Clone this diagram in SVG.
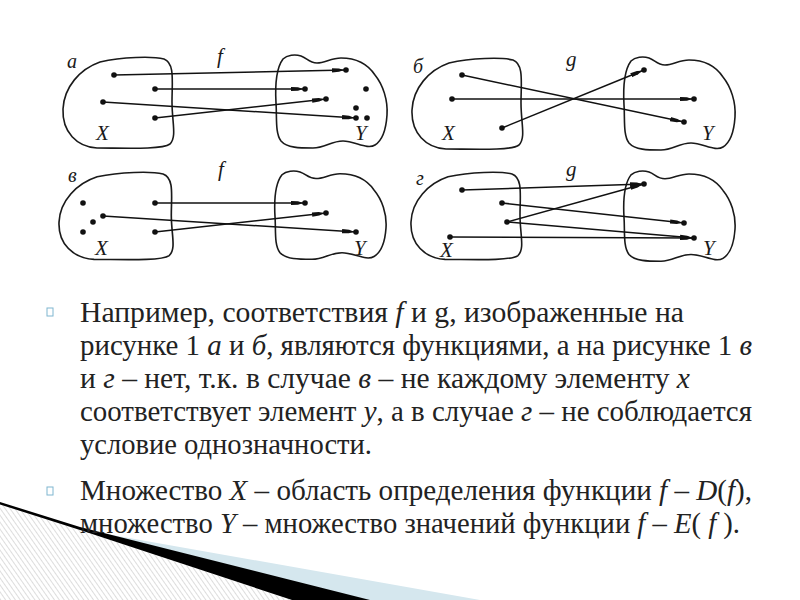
<svg xmlns="http://www.w3.org/2000/svg" width="800" height="600" viewBox="0 0 800 600">
<style>
.blob{fill:none;stroke:#1a1a1a;stroke-width:1.6;vector-effect:non-scaling-stroke}
.ln{stroke:#111;stroke-width:1.5;fill:none;marker-end:url(#ah)}
.dot{fill:#111}
.bul{fill:none;stroke:#7fb6d0;stroke-width:1}
</style>
<defs>
<marker id="ah" markerUnits="userSpaceOnUse" markerWidth="16" markerHeight="8" refX="14" refY="4" orient="auto">
<path d="M0,1.9 L7,2.3 L12,4 L7,5.7 L0,6.1 Z" fill="#111"/>
</marker>
<path id="lb" d="M 38,5 C 60,0 90,-1 102,2 C 113,6 110,25 110,45 C 110,65 115,80 108,87 C 100,93 60,91 35,91 C 15,90 0,75 1,52 C 2,30 18,12 38,5 Z"/>
<path id="rb" d="M 8,4 C 12,0 20,-1 26,1 C 32,3 34,8 42,8 C 50,8 56,3 66,3 C 80,3 92,8 100,20 C 108,30 113,45 112,60 C 111,75 108,85 100,90 C 92,95 80,86 68,86 C 56,86 50,93 38,93 C 25,93 12,93 6,86 C 0,78 2,62 1,48 C 0,30 2,12 8,4 Z"/>
<pattern id="hatch" patternUnits="userSpaceOnUse" width="4" height="4" patternTransform="rotate(-35)">
<rect width="4" height="4" fill="#fff"/>
<line x1="0" y1="0" x2="0" y2="4" stroke="#cfcfcf" stroke-width="1.4"/>
</pattern>
</defs>

<g id="decoration">
<polygon points="0,504 80,530 292,600 0,600" fill="url(#hatch)"/>
<polygon points="95,532 480,600 368,600 80,529" fill="#d5e7ee"/>
<polygon points="0,502 80,527 370,600 292,600 80,530 0,504.5" fill="#000"/>
</g>

<g id="labels" font-family="Liberation Serif" font-style="italic" fill="#1a1a1a" font-size="21">
<text x="67" y="68" font-size="20">a</text>
<text x="217" y="63">f</text>
<text x="96" y="140">X</text>
<text x="355" y="140">Y</text>
<text x="413" y="73" font-size="20">б</text>
<text x="566" y="66">g</text>
<text x="442" y="140">X</text>
<text x="702" y="140">Y</text>
<text x="68" y="182" font-size="20">в</text>
<text x="218" y="176">f</text>
<text x="95" y="255">X</text>
<text x="354" y="255">Y</text>
<text x="416" y="185" font-size="20">г</text>
<text x="566" y="176">g</text>
<text x="440" y="257">X</text>
<text x="703" y="255">Y</text>
</g>

<g id="panel-a">
<g id="a-X"><use href="#lb" class="blob" transform="translate(62,57)"/></g>
<g id="a-Y"><use href="#rb" class="blob" transform="translate(275,55)"/></g>
<g class="dot">
<circle cx="114" cy="75" r="2.8"/><circle cx="155" cy="89" r="2.8"/><circle cx="103" cy="102" r="2.8"/><circle cx="155" cy="118" r="2.8"/>
<circle cx="346" cy="70" r="2.8"/><circle cx="305" cy="89" r="2.8"/><circle cx="366" cy="89" r="2.8"/><circle cx="326" cy="99" r="2.8"/><circle cx="356" cy="108" r="2.8"/><circle cx="356" cy="118" r="2.8"/><circle cx="367" cy="118" r="2.8"/>
</g>
</g>

<g id="panel-b">
<g id="b-X"><use href="#lb" class="blob" transform="translate(411,58)"/></g>
<g id="b-Y"><use href="#rb" class="blob" transform="translate(623,57)"/></g>
<g class="dot">
<circle cx="462" cy="75" r="2.8"/><circle cx="452" cy="99" r="2.8"/><circle cx="502" cy="128" r="2.8"/>
<circle cx="644" cy="70" r="2.8"/><circle cx="694" cy="99" r="2.8"/><circle cx="684" cy="122" r="2.8"/>
</g>
</g>

<g id="panel-v">
<g id="v-X"><use href="#lb" class="blob" transform="translate(58,172) scale(1.03,0.96)"/></g>
<g id="v-Y"><use href="#rb" class="blob" transform="translate(274,171) scale(1,0.95)"/></g>
<g class="dot">
<circle cx="83" cy="203" r="2.8"/><circle cx="93" cy="222" r="2.8"/><circle cx="83" cy="232" r="2.8"/><circle cx="103" cy="216" r="2.8"/><circle cx="155" cy="203" r="2.8"/><circle cx="155" cy="232" r="2.8"/>
<circle cx="305" cy="203" r="2.8"/><circle cx="326" cy="213" r="2.8"/><circle cx="356" cy="232" r="2.8"/>
</g>
</g>

<g id="panel-g">
<g id="g-X"><use href="#lb" class="blob" transform="translate(410,172) scale(1,0.96)"/></g>
<g id="g-Y"><use href="#rb" class="blob" transform="translate(623,171) scale(1,0.97)"/></g>
<g class="dot">
<circle cx="462" cy="190" r="2.8"/><circle cx="502" cy="203" r="2.8"/><circle cx="507" cy="222" r="2.8"/><circle cx="450" cy="237" r="2.8"/>
<circle cx="644" cy="184" r="2.8"/><circle cx="684" cy="223" r="2.8"/><circle cx="694" cy="238" r="2.8"/>
</g>
</g>

<g id="connectors">
<line class="ln" x1="114" y1="75" x2="346" y2="70"/>
<line class="ln" x1="155" y1="89" x2="305" y2="89"/>
<line class="ln" x1="103" y1="102" x2="356" y2="118"/>
<line class="ln" x1="155" y1="118" x2="326" y2="99"/>
<line class="ln" x1="462" y1="75" x2="684" y2="122"/>
<line class="ln" x1="452" y1="99" x2="694" y2="99"/>
<line class="ln" x1="502" y1="128" x2="644" y2="70"/>
<line class="ln" x1="155" y1="203" x2="305" y2="203"/>
<line class="ln" x1="103" y1="216" x2="356" y2="232"/>
<line class="ln" x1="155" y1="232" x2="326" y2="213"/>
<line class="ln" x1="462" y1="190" x2="644" y2="184"/>
<line class="ln" x1="502" y1="203" x2="684" y2="223"/>
<line class="ln" x1="507" y1="222" x2="644" y2="184"/>
<line class="ln" x1="507" y1="222" x2="694" y2="238"/>
<line class="ln" x1="450" y1="237" x2="694" y2="238"/>
</g>

<g id="text">
<rect class="bul" x="47" y="308" width="6" height="8"/>
<rect class="bul" x="47" y="487" width="6" height="8"/>
<g font-family="Liberation Serif" font-size="29" fill="#222">
<text x="80" y="322" textLength="604" lengthAdjust="spacingAndGlyphs">Например, соответствия  <tspan font-style="italic">f</tspan>  и g, изображенные на</text>
<text x="80" y="355" textLength="672" lengthAdjust="spacingAndGlyphs">рисунке 1 <tspan font-style="italic">а</tspan> и <tspan font-style="italic">б</tspan>, являются функциями, а на рисунке 1 <tspan font-style="italic">в</tspan></text>
<text x="80" y="388" textLength="610" lengthAdjust="spacingAndGlyphs">и <tspan font-style="italic">г</tspan> – нет, т.к. в случае <tspan font-style="italic">в</tspan> – не каждому элементу <tspan font-style="italic">x</tspan></text>
<text x="80" y="421" textLength="672" lengthAdjust="spacingAndGlyphs">соответствует элемент <tspan font-style="italic">y</tspan>, а в случае <tspan font-style="italic">г</tspan> – не соблюдается</text>
<text x="80" y="454" textLength="292" lengthAdjust="spacingAndGlyphs">условие однозначности.</text>
<text x="80" y="500" textLength="672" lengthAdjust="spacingAndGlyphs">Множество <tspan font-style="italic">X</tspan> – область определения функции <tspan font-style="italic">f</tspan> – <tspan font-style="italic">D</tspan>(<tspan font-style="italic">f</tspan>),</text>
<text x="80" y="533" textLength="660" lengthAdjust="spacingAndGlyphs">множество <tspan font-style="italic">Y</tspan> – множество значений функции <tspan font-style="italic">f</tspan> – <tspan font-style="italic">E</tspan>( <tspan font-style="italic">f</tspan> ).</text>
</g>
</g>
</svg>
